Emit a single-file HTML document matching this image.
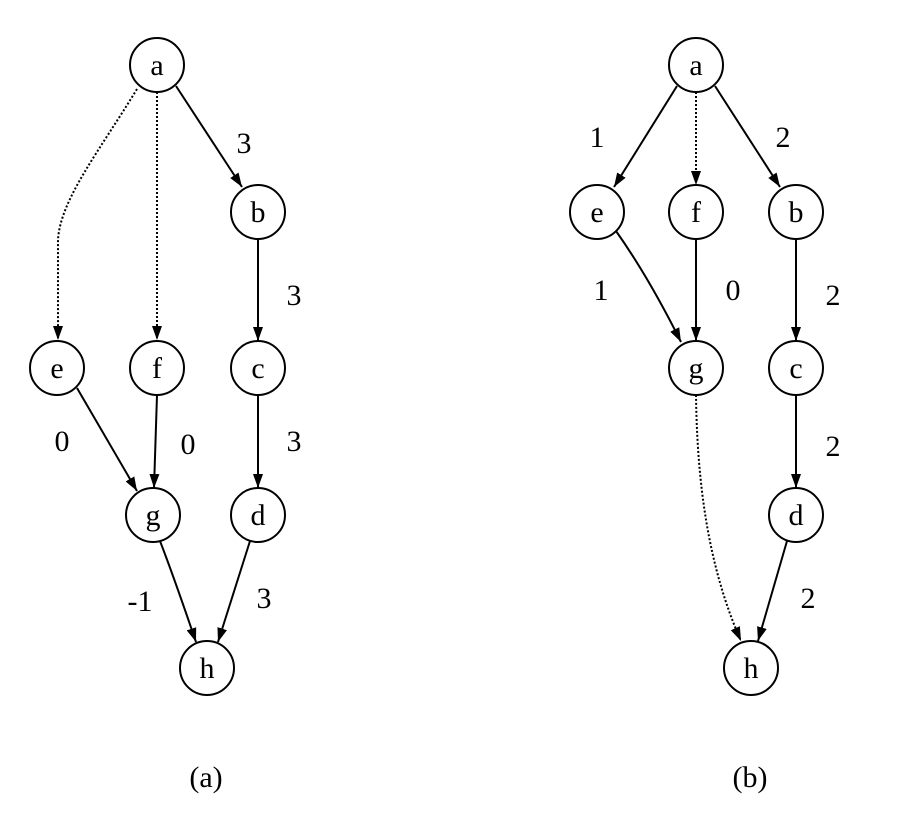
<!DOCTYPE html>
<html><head><style>body{margin:0;background:#fff}svg{display:block}</style></head><body>
<svg width="908" height="838" xmlns="http://www.w3.org/2000/svg" font-family="Liberation Serif, serif" font-size="30">
<defs><marker id="arr" viewBox="0 0 14 10" markerWidth="14" markerHeight="10" refX="14" refY="5" orient="auto" markerUnits="userSpaceOnUse"><path d="M0,0 L14,5 L0,10 z" fill="#000"/></marker></defs>
<g fill="none" stroke="#000" stroke-width="2">
<path d="M137,89 C100,150 60,200 58,240 L58,340" stroke-dasharray="2,2" marker-end="url(#arr)"/>
<path d="M157,92 L157,340" stroke-dasharray="2,2" marker-end="url(#arr)"/>
<path d="M176,86 L242,187" marker-end="url(#arr)"/>
<path d="M258,239 L258,341" marker-end="url(#arr)"/>
<path d="M258,395 L258,488" marker-end="url(#arr)"/>
<path d="M77,388 L137,491" marker-end="url(#arr)"/>
<path d="M157,395 L154,488" marker-end="url(#arr)"/>
<path d="M160,541 C175,580 185,610 196,642" marker-end="url(#arr)"/>
<path d="M250,541 L218,642" marker-end="url(#arr)"/>
<path d="M677,86 L614,187" marker-end="url(#arr)"/>
<path d="M696,92 L696,185" stroke-dasharray="2,2" marker-end="url(#arr)"/>
<path d="M715,86 L780,187" marker-end="url(#arr)"/>
<path d="M616,231 C640,265 660,300 681,342" marker-end="url(#arr)"/>
<path d="M696,239 L696,341" marker-end="url(#arr)"/>
<path d="M796,239 L796,341" marker-end="url(#arr)"/>
<path d="M796,395 L796,488" marker-end="url(#arr)"/>
<path d="M696,395 C697,470 705,560 741,641" stroke-dasharray="2,2" marker-end="url(#arr)"/>
<path d="M787,541 L758,641" marker-end="url(#arr)"/>
<g fill="#fff">
<circle cx="157" cy="65" r="27"/><circle cx="258" cy="212" r="27"/><circle cx="57" cy="368" r="27"/><circle cx="157" cy="368" r="27"/><circle cx="258" cy="368" r="27"/><circle cx="153" cy="515" r="27"/><circle cx="258" cy="515" r="27"/><circle cx="207" cy="668" r="27"/>
<circle cx="696" cy="65" r="27"/><circle cx="597" cy="212" r="27"/><circle cx="696" cy="212" r="27"/><circle cx="796" cy="212" r="27"/><circle cx="696" cy="368" r="27"/><circle cx="796" cy="368" r="27"/><circle cx="796" cy="515" r="27"/><circle cx="751" cy="668" r="27"/>
</g></g>
<g text-anchor="middle" fill="#000">
<text x="157" y="75">a</text><text x="258" y="222">b</text><text x="57" y="378">e</text><text x="157" y="378">f</text><text x="258" y="378">c</text><text x="153" y="525">g</text><text x="258" y="525">d</text><text x="207" y="678">h</text>
<text x="696" y="75">a</text><text x="597" y="222">e</text><text x="696" y="222">f</text><text x="796" y="222">b</text><text x="696" y="378">g</text><text x="796" y="378">c</text><text x="796" y="525">d</text><text x="751" y="678">h</text>
<text x="244" y="153">3</text><text x="294" y="305">3</text><text x="294" y="451">3</text><text x="62" y="451">0</text><text x="188" y="454">0</text><text x="140" y="611">-1</text><text x="264" y="608">3</text>
<text x="597" y="147">1</text><text x="783" y="147">2</text><text x="601" y="300">1</text><text x="733" y="300">0</text><text x="833" y="305">2</text><text x="833" y="456">2</text><text x="808" y="608">2</text>
<text x="206" y="787">(a)</text><text x="750" y="787">(b)</text>
</g>
</svg>
</body></html>
